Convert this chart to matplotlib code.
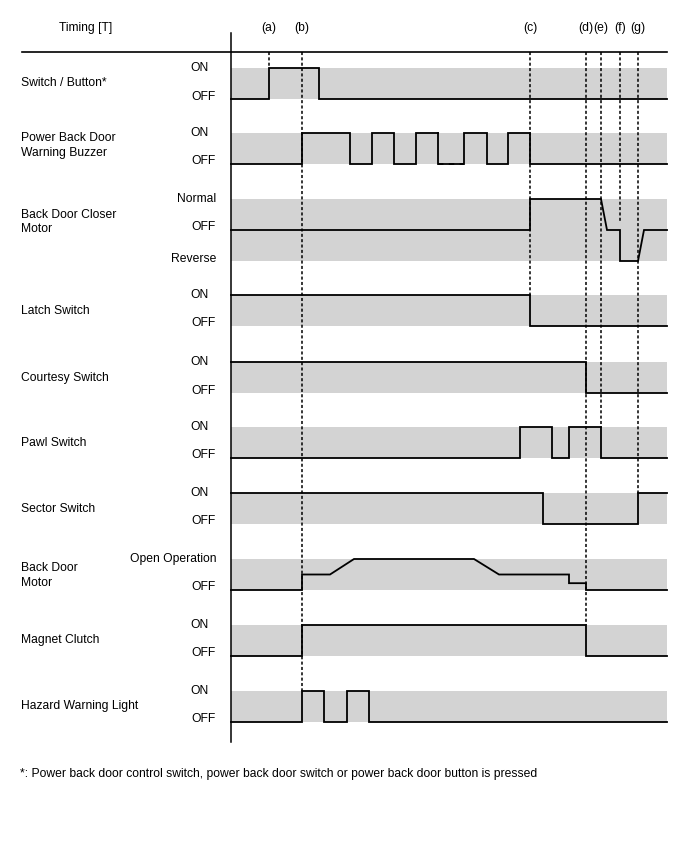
import matplotlib
matplotlib.use("Agg")
import matplotlib.pyplot as plt

plt.rcParams['font.family'] = ['Liberation Sans', 'DejaVu Sans']

# timing marks (x position on the time axis)
timing_names = ['(a)', '(b)', '(c)', '(d)', '(e)', '(f)', '(g)']
timing_x = [269, 302, 530, 586, 601, 620, 638]
# where each dashed timing line stops (signal level it meets)
timing_end_y = [67, 691, 296, 625, 428, 222, 494]

t_start = 231
t_end = 667

row_names = ['Switch / Button*', 'Power Back Door\nWarning Buzzer', 'Back Door Closer\nMotor',
             'Latch Switch', 'Courtesy Switch', 'Pawl Switch', 'Sector Switch',
             'Back Door\nMotor', 'Magnet Clutch', 'Hazard Warning Light']

row_states = [
    [('ON', 1), ('OFF', 0)],
    [('ON', 1), ('OFF', 0)],
    [('Normal', 1), ('OFF', 0), ('Reverse', -1)],
    [('ON', 1), ('OFF', 0)],
    [('ON', 1), ('OFF', 0)],
    [('ON', 1), ('OFF', 0)],
    [('ON', 1), ('OFF', 0)],
    [('Open Operation', 1), ('OFF', 0)],
    [('ON', 1), ('OFF', 0)],
    [('ON', 1), ('OFF', 0)],
]

# signal waveforms: (x points, level points)
sw_x = [231, 269, 269, 319, 319, 667]
sw_lv = [0, 0, 1, 1, 0, 0]

buz1_x = [231, 302, 302, 350, 350, 372, 372, 394, 394, 416, 416, 438]
buz1_lv = [0, 0, 1, 1, 0, 0, 1, 1, 0, 0, 1, 1]
buz_gap_x = [438, 464]
buz_gap_lv = [0, 0]
buz2_x = [438, 438, 464, 464, 487, 487, 508, 508, 530, 530, 667]
buz2_lv = [1, 0, 0, 1, 1, 0, 0, 1, 1, 0, 0]

closer_x = [231, 530, 530, 601, 607, 620, 620, 638, 644, 667]
closer_lv = [0, 0, 1, 1, 0, 0, -1, -1, 0, 0]

latch_x = [231, 530, 530, 667]
latch_lv = [1, 1, 0, 0]

courtesy_x = [231, 586, 586, 667]
courtesy_lv = [1, 1, 0, 0]

pawl_x = [231, 520, 520, 552, 552, 569, 569, 601, 601, 667]
pawl_lv = [0, 0, 1, 1, 0, 0, 1, 1, 0, 0]

sector_x = [231, 543, 543, 638, 638, 667]
sector_lv = [1, 1, 0, 0, 1, 1]

motor_x = [231, 302, 302, 330, 354, 474, 499, 569, 569, 586, 586, 667]
motor_lv = [0, 0, 0.5, 0.5, 1, 1, 0.5, 0.5, 0.22, 0.22, 0, 0]

clutch_x = [231, 302, 302, 586, 586, 667]
clutch_lv = [0, 0, 1, 1, 0, 0]

hazard_x = [231, 302, 302, 324, 324, 347, 347, 369, 369, 667]
hazard_lv = [0, 0, 1, 1, 0, 0, 1, 1, 0, 0]

footnote = '*: Power back door control switch, power back door switch or power back door button is pressed'

# layout (pixel coordinates)
row_base = [99, 164, 230, 326, 393, 458, 524, 590, 656, 722]
label_shift = [-1, -3, -8, 0, 0, 0, 0, 1, 0, 0]
step = 31
band_color = '#d3d3d3'
fs = 8.7

fig = plt.figure(figsize=(6.88, 8.52), dpi=100)
ax = fig.add_axes([0, 0, 1, 1])
ax.set_xlim(0, 688)
ax.set_ylim(852, 0)
ax.axis('off')

def ypos(row, lv):
    return row_base[row] - lv * step

# header
ax.text(86, 28, 'Timing [T]', fontsize=fs, ha='center', va='center')
for name, x in zip(timing_names, timing_x):
    ax.text(x, 28, name, fontsize=fs, ha='center', va='center')
ax.plot([22, t_end], [52, 52], color='black', lw=1.2)
ax.plot([t_start, t_start], [33, 742], color='black', lw=1.1)

# bands and labels
for i, (name, states) in enumerate(zip(row_names, row_states)):
    lvls = [s[1] for s in states]
    top = ypos(i, max(lvls))
    bot = ypos(i, min(lvls))
    ax.fill_between([t_start, t_end], top, bot, color=band_color, lw=0, zorder=1)
    ax.text(21, (top + bot) / 2 + label_shift[i], name, fontsize=fs, ha='left', va='center',
            linespacing=1.3)
    for txt, lv in states:
        xr = 209 if txt == 'ON' else 216
        dy = -2.5 if lv <= 0 else 0
        ax.text(xr, ypos(i, lv) + dy, txt, fontsize=fs, ha='right', va='center')

# signals
signals = [(0, sw_x, sw_lv), (1, buz1_x, buz1_lv), (1, buz2_x, buz2_lv),
           (2, closer_x, closer_lv), (3, latch_x, latch_lv), (4, courtesy_x, courtesy_lv),
           (5, pawl_x, pawl_lv), (6, sector_x, sector_lv), (7, motor_x, motor_lv),
           (8, clutch_x, clutch_lv), (9, hazard_x, hazard_lv)]
for row, xs, lvs in signals:
    ax.plot(xs, [ypos(row, v) for v in lvs], color='black', lw=1.3, zorder=3,
            solid_joinstyle='miter')
ax.plot(buz_gap_x, [ypos(1, v) for v in buz_gap_lv], color='black', lw=1.3,
        linestyle=(0, (3, 3)), zorder=3)

# dashed timing lines
for x, yb in zip(timing_x, timing_end_y):
    ax.plot([x, x], [52, yb], color='black', lw=1.1, linestyle=(0, (2, 1.5)), zorder=4)

ax.text(20, 774, footnote, fontsize=fs, ha='left', va='center')

fig.savefig('out.png', dpi=100)
